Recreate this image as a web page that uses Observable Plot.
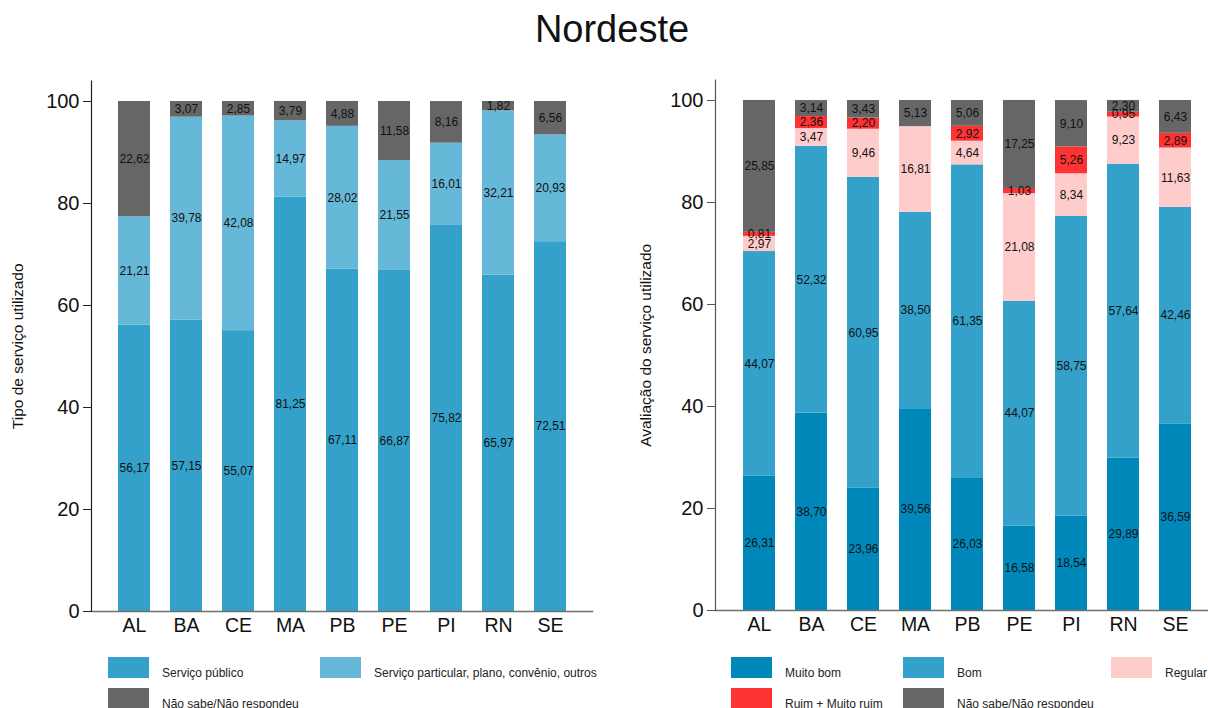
<!DOCTYPE html>
<html>
<head>
<meta charset="utf-8">
<script src="https://cdn.jsdelivr.net/npm/d3@7"></script>
<script src="https://cdn.jsdelivr.net/npm/@observablehq/plot@0.6"></script>
<style>
  body { margin: 0; background: #fff; font-family: "Liberation Sans", Arial, sans-serif; }
  #root { position: relative; width: 1208px; height: 708px; overflow: hidden; }
  #title { position: absolute; left: 8px; top: 10px; width: 1208px; text-align: center; font-size: 38px; line-height: 38px; color: #111; }
  #left { position: absolute; left: 0; top: 60px; }
  #right { position: absolute; left: 604px; top: 59px; }
  .legend { position: absolute; display: grid; row-gap: 10px; font-size: 12px; color: #222; }
  #legendLeft { left: 108px; top: 657px; grid-template-columns: 212px auto; }
  #legendRight { left: 731px; top: 657px; grid-template-columns: 172px 208px auto; }
  .item { display: flex; align-items: center; height: 21px; }
  .sw { width: 41px; height: 21px; margin-right: 13px; flex: none; }
  .lbl { padding-top: 10px; white-space: nowrap; }
</style>
</head>
<body>
<div id="root">
  <div id="title">Nordeste</div>
  <div id="left"></div>
  <div id="right"></div>
  <div id="legendLeft" class="legend"></div>
  <div id="legendRight" class="legend"></div>
</div>
<script>
// ---------- data ----------
const states = ["AL", "BA", "CE", "MA", "PB", "PE", "PI", "RN", "SE"];
const yTicks = [0, 20, 40, 60, 80, 100];

// Left chart: Tipo de serviço utilizado
const tipoSeries = ["Serviço público", "Serviço particular, plano, convênio, outros", "Não sabe/Não respondeu"];
const tipoColors = ["#33a1c9", "#66b8d8", "#666666"];
const servicoPublico    = [56.17, 57.15, 55.07, 81.25, 67.11, 66.87, 75.82, 65.97, 72.51];
const servicoParticular = [21.21, 39.78, 42.08, 14.97, 28.02, 21.55, 16.01, 32.21, 20.93];
const tipoNaoSabe       = [22.62, 3.07, 2.85, 3.79, 4.88, 11.58, 8.16, 1.82, 6.56];

// Right chart: Avaliação do serviço utilizado
const avalSeries = ["Muito bom", "Bom", "Regular", "Ruim + Muito ruim", "Não sabe/Não respondeu"];
const avalColors = ["#0088bb", "#33a1c9", "#ffcccc", "#ff3333", "#666666"];
const muitoBom    = [26.31, 38.70, 23.96, 39.56, 26.03, 16.58, 18.54, 29.89, 36.59];
const bom         = [44.07, 52.32, 60.95, 38.50, 61.35, 44.07, 58.75, 57.64, 42.46];
const regular     = [2.97, 3.47, 9.46, 16.81, 4.64, 21.08, 8.34, 9.23, 11.63];
const ruim        = [0.81, 2.36, 2.20, 0, 2.92, 1.03, 5.26, 0.95, 2.89];
const avalNaoSabe = [25.85, 3.14, 3.43, 5.13, 5.06, 17.25, 9.10, 2.30, 6.43];

// Legend order (row-major)
const tipoLegend = tipoSeries;
const avalLegend = ["Muito bom", "Bom", "Regular", "Ruim + Muito ruim", "Não sabe/Não respondeu"];

// ---------- build tidy tables ----------
function tidy(series, arrays) {
  const rows = [];
  series.forEach((s, i) => states.forEach((st, j) => rows.push({ state: st, series: s, value: arrays[i][j] })));
  return rows;
}
const tipoData = tidy(tipoSeries, [servicoPublico, servicoParticular, tipoNaoSabe]);
const avalData = tidy(avalSeries, [muitoBom, bom, regular, ruim, avalNaoSabe]);

const fmt = v => v.toFixed(2).replace(".", ",");

function chart({ data, series, colors, yLabel, marginLeft, marginRight, xRange, yLineColor, labelDx }) {
  return Plot.plot({
    width: 604,
    height: 591,
    marginTop: 20.6,
    marginBottom: 40,
    marginLeft,
    marginRight,
    style: { fontFamily: "Liberation Sans, Arial, sans-serif", background: "transparent", color: "#111" },
    x: { domain: states, range: xRange, paddingInner: 0.386, paddingOuter: 0.386, label: null },
    y: { domain: [0, 104], label: null },
    color: { domain: series, range: colors },
    marks: [
      Plot.barY(data, { x: "state", y: "value", fill: "series", z: "series" }),
      Plot.text(data, Plot.stackY({
        x: "state", y: "value", z: "series",
        text: d => d.value > 0 ? fmt(d.value) : "",
        fontSize: 12, fill: "#111"
      })),
      Plot.frame({ anchor: "bottom", stroke: "#707070", strokeWidth: 1.5 }),
      Plot.frame({ anchor: "left", stroke: yLineColor, strokeWidth: 1.2 }),
      Plot.axisY({ ticks: yTicks, tickSize: 8, tickPadding: 4, fontSize: 20, stroke: yLineColor, fill: "#111", label: null }),
      Plot.axisX({ tickSize: 0, tickPadding: 7, fontSize: 19.5, fill: "#111", label: null }),
      Plot.text([yLabel], { text: d => d, frameAnchor: "left", dx: labelDx, rotate: -90, textAnchor: "middle", fontSize: 15.5, fill: "#111" })
    ]
  });
}

document.getElementById("left").appendChild(chart({
  data: tipoData, series: tipoSeries, colors: tipoColors,
  yLabel: "Tipo de serviço utilizado",
  marginLeft: 91, marginRight: 12, xRange: [96.9, 586.1], yLineColor: "#222", labelDx: -73
}));
document.getElementById("right").appendChild(chart({
  data: avalData, series: avalSeries, colors: avalColors,
  yLabel: "Avaliação do serviço utilizado",
  marginLeft: 111, marginRight: 0, xRange: [117.9, 608.1], yLineColor: "#555", labelDx: -69.5
}));

function legend(el, keys, series, colors) {
  keys.forEach(k => {
    const item = document.createElement("div");
    item.className = "item";
    const sw = document.createElement("div");
    sw.className = "sw";
    sw.style.background = colors[series.indexOf(k)];
    const lbl = document.createElement("span");
    lbl.className = "lbl";
    lbl.textContent = k;
    item.appendChild(sw);
    item.appendChild(lbl);
    el.appendChild(item);
  });
}
legend(document.getElementById("legendLeft"), tipoLegend, tipoSeries, tipoColors);
legend(document.getElementById("legendRight"), avalLegend, avalSeries, avalColors);
</script>
</body>
</html>
